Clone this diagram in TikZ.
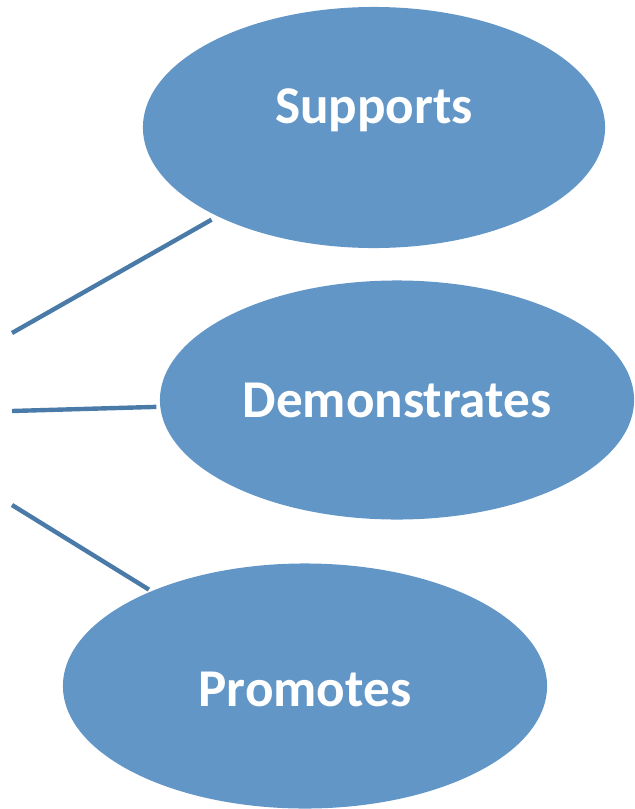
\documentclass[tikz,border=0pt]{standalone}
\usepackage{fontspec}
\setmainfont{Carlito}
\usepackage{tikz}
\usetikzlibrary{shapes.geometric, positioning}
\definecolor{bubblecolor}{RGB}{98, 150, 199}
\definecolor{linkcolor}{RGB}{73, 122, 168}

\begin{document}
\begin{tikzpicture}[
    x=0.025cm, y=-0.025cm,
    bubble/.style={ellipse, fill=bubblecolor, inner sep=0pt, outer sep=0pt, text=white,
        font=\fontsize{37.8}{44}\selectfont\bfseries, text height=0.85cm, text depth=0cm},
    link/.style={draw=linkcolor, line width=0.11cm},
]
    \useasboundingbox (0,0) rectangle (634,809);

    % Bubbles
    \node[bubble, minimum width=11.55cm, minimum height=6.025cm, text depth=1.05cm] (supports) at (374,127.5) {Supports};
    \node[bubble, minimum width=11.85cm, minimum height=5.975cm] (demonstrates) at (397,400) {Demonstrates};
    \node[bubble, minimum width=12.1cm, minimum height=6.125cm, text height=1.0cm] (promotes) at (305,686) {Promotes};

    % Loose ends on the left
    \coordinate (top) at (12,333);
    \coordinate (mid) at (12,411);
    \coordinate (low) at (12,505);

    % Links
    \draw[link, shorten >=0.175cm] (top) -- (supports);
    \draw[link, shorten >=0.1cm] (mid) -- (demonstrates);
    \draw[link, shorten >=0.08cm] (low) -- (promotes);

\end{tikzpicture}
\end{document}
